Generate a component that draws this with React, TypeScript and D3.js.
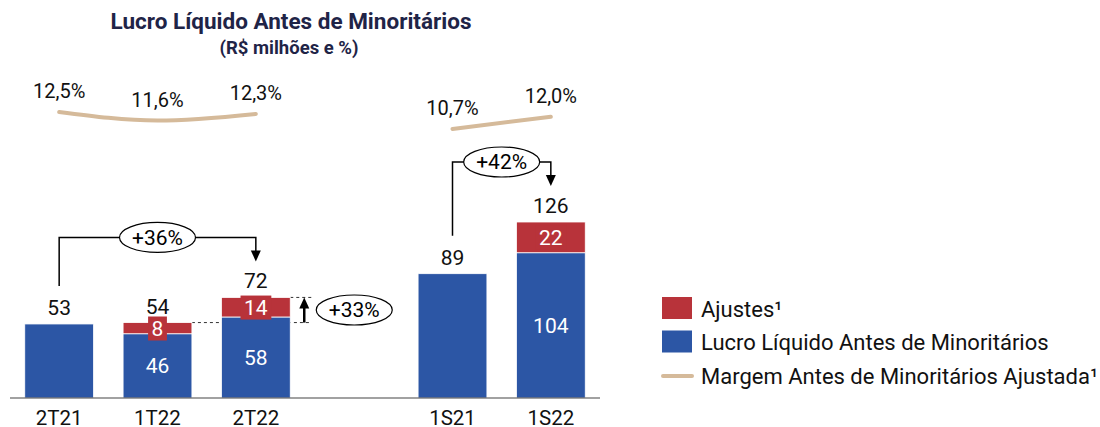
import { useEffect, useRef } from "react";
import * as d3 from "d3";

const categories = ["2T21", "1T22", "2T22", "1S21", "1S22"];
const lucro = [53, 46, 58, 89, 104];
const ajustes = [0, 8, 14, 0, 22];
const margem = [12.5, 11.6, 12.3, 10.7, 12.0];
const margemGroups = [
  ["2T21", "1T22", "2T22"],
  ["1S21", "1S22"],
];
const comparisons = [
  { from: "2T21", to: "2T22", label: "+36%" },
  { from: "1S21", to: "1S22", label: "+42%" },
];
const ajusteComparison = { from: "1T22", to: "2T22", label: "+33%" };
const legendItems = [
  { label: "Ajustes¹", kind: "rect", color: "#B8333A" },
  { label: "Lucro Líquido Antes de Minoritários", kind: "rect", color: "#2C56A5" },
  { label: "Margem Antes de Minoritários Ajustada¹", kind: "line", color: "#D5BA9A" },
];

const BLUE = "#2C56A5";
const RED = "#B8333A";
const TAN = "#D5BA9A";
const FONT = "Roboto, 'Noto Sans', sans-serif";

export default function App() {
  const ref = useRef<SVGSVGElement>(null);

  useEffect(() => {
    const svg = d3.select(ref.current);
    svg.selectAll("*").remove();

    const baseline = 398;
    const x = d3
      .scaleBand()
      .domain(["2T21", "1T22", "2T22", "gap", "1S21", "1S22"])
      .range([10, 600])
      .paddingInner(0.3)
      .paddingOuter(0.15);
    const bw = x.bandwidth();
    const cx = (c: string) => (x(c) as number) + bw / 2;

    const y = d3.scaleLinear().domain([0, 126]).range([baseline, 222]);
    const ym = d3.scaleLinear().domain([10.7, 12.5]).range([129, 112]);

    const rows = categories.map((c, i) => ({
      cat: c,
      lucro: lucro[i],
      ajuste: ajustes[i],
      total: lucro[i] + ajustes[i],
      margem: margem[i],
    }));
    const byCat = new Map(rows.map((r) => [r.cat, r]));

    // title
    svg
      .append("text")
      .attr("x", 291)
      .attr("y", 29)
      .attr("text-anchor", "middle")
      .attr("fill", "#1F2447")
      .style("font-family", FONT)
      .style("font-weight", 700)
      .style("font-size", "22.5px")
      .text("Lucro Líquido Antes de Minoritários");
    svg
      .append("text")
      .attr("x", 289)
      .attr("y", 53.5)
      .attr("text-anchor", "middle")
      .attr("fill", "#1F2447")
      .style("font-family", FONT)
      .style("font-weight", 700)
      .style("font-size", "18.5px")
      .text("(R$ milhões e %)");

    // dashed guides for +33%
    const fromR = byCat.get(ajusteComparison.from)!;
    const toR = byCat.get(ajusteComparison.to)!;
    const guideX = (x(ajusteComparison.to) as number) + bw + 21;
    const guides = svg.append("g").attr("stroke", "#333").attr("stroke-dasharray", "3,3").attr("stroke-width", 1);
    guides
      .append("line")
      .attr("x1", (x(ajusteComparison.from) as number) + bw)
      .attr("x2", guideX)
      .attr("y1", y(fromR.total))
      .attr("y2", y(fromR.total));
    guides
      .append("line")
      .attr("x1", (x(ajusteComparison.to) as number) + bw)
      .attr("x2", guideX)
      .attr("y1", y(toR.total))
      .attr("y2", y(toR.total));

    // bars
    const bars = svg.append("g");
    bars
      .selectAll("rect.lucro")
      .data(rows)
      .join("rect")
      .attr("class", "lucro")
      .attr("x", (d) => x(d.cat) as number)
      .attr("width", bw)
      .attr("y", (d) => y(d.lucro))
      .attr("height", (d) => baseline - y(d.lucro))
      .attr("fill", BLUE)
      .attr("stroke", "#fff")
      .attr("stroke-width", 0.8);
    bars
      .selectAll("rect.ajuste")
      .data(rows.filter((d) => d.ajuste > 0))
      .join("rect")
      .attr("class", "ajuste")
      .attr("x", (d) => x(d.cat) as number)
      .attr("width", bw)
      .attr("y", (d) => y(d.total))
      .attr("height", (d) => y(d.lucro) - y(d.total))
      .attr("fill", RED)
      .attr("stroke", "#fff")
      .attr("stroke-width", 0.8);

    // axis line
    svg
      .append("line")
      .attr("x1", 10)
      .attr("x2", 600)
      .attr("y1", baseline)
      .attr("y2", baseline)
      .attr("stroke", "#444")
      .attr("stroke-width", 1.2);

    // category labels
    svg
      .append("g")
      .selectAll("text")
      .data(rows)
      .join("text")
      .attr("x", (d) => cx(d.cat))
      .attr("y", 425)
      .attr("text-anchor", "middle")
      .style("font-family", FONT)
      .style("font-size", "20.5px")
      .attr("fill", "#111")
      .text((d) => d.cat);

    // total labels
    svg
      .append("g")
      .selectAll("text")
      .data(rows)
      .join("text")
      .attr("x", (d) => cx(d.cat))
      .attr("y", (d) => y(d.total) - 9)
      .attr("text-anchor", "middle")
      .style("font-family", FONT)
      .style("font-size", "21px")
      .attr("fill", "#111")
      .text((d) => d.total);

    // inner lucro labels
    svg
      .append("g")
      .selectAll("text")
      .data(rows.filter((d) => d.ajuste > 0))
      .join("text")
      .attr("x", (d) => cx(d.cat))
      .attr("y", (d) => (y(d.lucro) + baseline) / 2)
      .attr("dy", "0.35em")
      .attr("text-anchor", "middle")
      .style("font-family", FONT)
      .style("font-size", "21px")
      .attr("fill", "#fff")
      .text((d) => d.lucro);

    // ajuste labels with red box
    const adj = svg
      .append("g")
      .selectAll("g")
      .data(rows.filter((d) => d.ajuste > 0))
      .join("g");
    const adjText = adj
      .append("text")
      .attr("x", (d) => cx(d.cat))
      .attr("y", (d) => (y(d.lucro) + y(d.total)) / 2)
      .attr("dy", "0.35em")
      .attr("text-anchor", "middle")
      .style("font-family", FONT)
      .style("font-size", "21px")
      .attr("fill", "#fff")
      .text((d) => d.ajuste);
    adjText.each(function () {
      const bb = (this as SVGTextElement).getBBox();
      d3.select((this as SVGTextElement).parentNode as SVGGElement)
        .insert("rect", "text")
        .attr("x", bb.x - 3.5)
        .attr("y", bb.y)
        .attr("width", bb.width + 7)
        .attr("height", bb.height)
        .attr("fill", RED);
    });

    // margin lines
    const line = d3
      .line<(typeof rows)[number]>()
      .x((d) => cx(d.cat))
      .y((d) => ym(d.margem))
      .curve(d3.curveMonotoneX);
    margemGroups.forEach((g) => {
      svg
        .append("path")
        .datum(g.map((c) => byCat.get(c)!))
        .attr("fill", "none")
        .attr("stroke", TAN)
        .attr("stroke-width", 4)
        .attr("stroke-linecap", "round")
        .attr("d", line);
    });
    svg
      .append("g")
      .selectAll("text")
      .data(rows)
      .join("text")
      .attr("x", (d) => cx(d.cat))
      .attr("y", (d) => ym(d.margem) - 14)
      .attr("text-anchor", "middle")
      .style("font-family", FONT)
      .style("font-size", "20px")
      .attr("fill", "#111")
      .text((d) => d3.format(".1f")(d.margem).replace(".", ",") + "%");

    // arrowhead helper
    const arrowHead = (px: number, py: number, dir: 1 | -1) =>
      svg
        .append("path")
        .attr("d", `M${px},${py} L${px - 5},${py - dir * 11} L${px + 5},${py - dir * 11} Z`)
        .attr("fill", "#000");

    const ellipse = (ex: number, ey: number, label: string) => {
      svg
        .append("ellipse")
        .attr("cx", ex)
        .attr("cy", ey)
        .attr("rx", 38)
        .attr("ry", 15)
        .attr("fill", "#fff")
        .attr("stroke", "#000")
        .attr("stroke-width", 1.2);
      svg
        .append("text")
        .attr("x", ex)
        .attr("y", ey)
        .attr("dy", "0.35em")
        .attr("text-anchor", "middle")
        .style("font-family", FONT)
        .style("font-size", "21px")
        .attr("fill", "#000")
        .text(label);
    };

    // growth brackets
    comparisons.forEach((c) => {
      const f = byCat.get(c.from)!;
      const t = byCat.get(c.to)!;
      const x1 = cx(c.from);
      const x2 = cx(c.to);
      const top = y(t.total) - 60;
      const tip = y(t.total) - 36;
      svg
        .append("path")
        .attr("d", `M${x1},${y(f.total) - 38} V${top} H${x2} V${tip - 8}`)
        .attr("fill", "none")
        .attr("stroke", "#000")
        .attr("stroke-width", 1.5);
      arrowHead(x2, tip, 1);
      ellipse((x1 + x2) / 2, top, c.label);
    });

    // +33% arrow
    const ax = (x(ajusteComparison.to) as number) + bw + 14;
    svg
      .append("line")
      .attr("x1", ax)
      .attr("x2", ax)
      .attr("y1", y(fromR.total))
      .attr("y2", y(toR.total) + 8)
      .attr("stroke", "#000")
      .attr("stroke-width", 2.5);
    arrowHead(ax, y(toR.total), -1);
    ellipse(guideX + 43, (y(fromR.total) + y(toR.total)) / 2, ajusteComparison.label);

    // legend
    const legend = svg
      .append("g")
      .selectAll("g")
      .data(legendItems)
      .join("g")
      .attr("transform", (_, i) => `translate(662,${297 + i * 33.5})`);
    legend
      .filter((d) => d.kind === "rect")
      .append("rect")
      .attr("width", 30)
      .attr("height", 22)
      .attr("fill", (d) => d.color);
    legend
      .filter((d) => d.kind === "line")
      .append("line")
      .attr("x1", 1)
      .attr("x2", 30)
      .attr("y1", 12)
      .attr("y2", 12)
      .attr("stroke", (d) => d.color)
      .attr("stroke-width", 4)
      .attr("stroke-linecap", "round");
    legend
      .append("text")
      .attr("x", 39)
      .attr("y", 19.5)
      .style("font-family", FONT)
      .style("font-size", "22px")
      .attr("fill", "#111")
      .text((d) => d.label);
  }, []);

  return (
    <svg
      ref={ref}
      width={1100}
      height={427}
      style={{ position: "absolute", left: 0, top: 0, background: "#fff" }}
    />
  );
}
